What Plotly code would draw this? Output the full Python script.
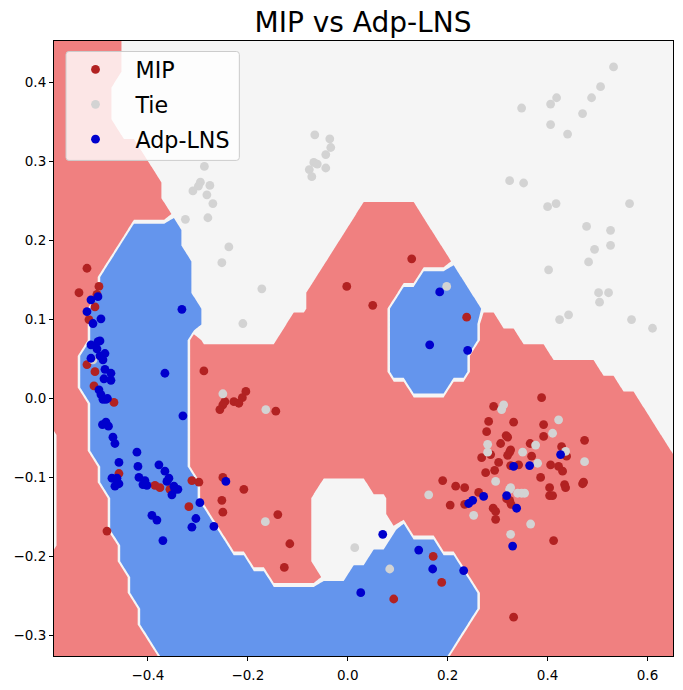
import numpy as np
import plotly.graph_objects as go

# decision regions, one string per mesh row from the bottom: class + last column of the run
REGION_RUNS = [
    "M10 A39 M62", "M9 A40 M62", "M8 A41 M62", "M8 A42 M62", "M7 A42 M62",
    "M7 A21 M26 T29 A41 M62", "M6 A19 M25 T31 A40 M62", "T0 M6 A17 M25 T33 A38 M62",
    "T0 M5 A16 M25 T34 A35 M62", "T0 M5 A15 M25 T33 M62", "T0 M5 A14 M25 T33 M62",
    "T0 M4 A14 M26 T31 M62", "T0 M4 A13 M62", "T0 M3 A13 M61 T62", "T0 M3 A13 M60 T62",
    "M3 A13 M59 T62", "M3 A13 M58 T62", "M2 A13 M35 A39 M56 T62", "M2 A13 M33 A41 M54 T62",
    "M2 A13 M33 A41 M49 T62", "M3 A13 M14 T22 M33 A42 M46 T62", "M3 A14 T23 M33 A42 M44 T62",
    "M3 A14 T25 M33 A42 T62", "M4 A13 T25 M34 A41 T62", "M4 A13 T26 M36 A40 T62",
    "M5 A13 T27 M39 T62", "M6 A12 T28 M38 T62", "M7 A12 T29 M37 T62", "M11 T30 M36 T62",
    "M10 T62", "M10 T62", "M9 T62", "M8 T62", "M6 T62", "M5 T62", "M5 T62", "M5 T62",
    "M6 T62", "M6 T62", "M6 T62",
]
CLASS_VALUE = {"M": 0, "T": 1, "A": 2}

X_MIN, X_MAX = -0.588, 0.651
Y_MIN, Y_MAX = -0.3262, 0.4529
MESH_STEP = 0.02

mip_x = [.388, .292, .282, .332, .278, .392, .392, .317, .320, .306, .365, .428, .474, .326, .324, .320,
         .286, .268, .368, .438, .302, .326, .342, .406, .422, .430, .276, .294, .386, .234, .262, .404,
         .434, .436, .472, .470, .404, .410, .318, .324, .327, .234, .291, .296, .296, .412, .332, -.140,
         -.116, -.127, .190, .216, .205, .171, .188, .092, .128, -.002, .050, .238, -.144, -.288, -.204,
         -.211, -.228, -.218, -.246, -.250, -.256, -.458, -.482, -.312, -.298, -.318, -.386, -.376, -.356,
         -.250, -.208, -.252, -.250, -.522, -.538, -.498, -.502, -.506, -.518, -.522, -.506, -.508, -.468]
mip_y = [.001, -.010, -.029, -.030, -.042, -.033, -.048, -.047, -.049, -.057, -.057, -.061, -.053, -.065,
         -.068, -.072, -.071, -.075, -.073, -.073, -.081, -.085, -.084, -.084, -.086, -.092, -.094, -.091,
         -.100, -.113, -.119, -.113, -.109, -.113, -.106, -.108, -.123, -.123, -.127, -.129, -.134, -.134,
         -.139, -.143, -.153, -.180, -.277, -.147, -.184, -.214, -.104, -.111, -.135, -.200, -.233, -.254,
         .177, .142, .118, .103, -.016, .035, .009, .001, -.004, -.006, -.004, -.008, -.014, -.095, -.168,
         -.104, -.106, -.137, -.110, -.113, -.115, -.100, -.115, -.129, -.144, .165, .134, .142, .132,
         .116, .100, .043, .034, .016, -.005]

tie_x = [.532, .506, .488, .470, .418, .406, .348, .406, .440, .324, .352, .564, .417, .400, .478, .526,
         .526, .494, .482, .402, .502, .522, .504, .442, .424, .568, .610, -.066, -.036, -.034, -.044,
         -.068, -.061, -.044, -.077, -.072, -.287, -.295, -.299, -.276, -.310, -.282, -.270, -.325, -.280,
         -.238, -.252, -.172, -.210, -.250, -.164, -.510, .198, -.165, .014, .084, .162, .252, .312, .308,
         .422, .410, .280, .280, .350, .376, .436, .474, .380, .296, .326, .324, .340, .348, .354, .366, .326]
tie_y = [.420, .395, .381, .361, .381, .373, .368, .347, .335, .276, .273, .247, .247, .243, .218, .213,
         .194, .189, .173, .163, .134, .134, .122, .106, .100, .100, .089, .334, .329, .318, .309, .299,
         .297, .292, .290, .281, .294, .274, .269, .270, .263, .258, .247, .227, .229, .192, .172, .139,
         .095, .006, -.014, .049, .142, -.156, -.189, -.216, -.122, -.148, -.008, -.014, -.027, -.044,
         -.058, -.068, -.068, -.059, -.067, -.080, -.082, -.105, -.113, -.115, -.120, -.120, -.120, -.159, -.172]

adp_x = [-.500, -.514, -.522, -.494, -.510, -.496, -.500, -.514, -.502, -.486, -.496, -.490, -.514, -.486,
         -.474, -.488, -.474, -.498, -.494, -.490, -.484, -.481, -.330, -.491, -.484, -.479, -.470, -.466,
         -.422, -.458, -.420, -.378, -.366, -.358, -.362, -.418, -.406, -.410, -.402, -.472, -.462, -.458,
         -.466, -.462, -.348, -.340, -.352, -.346, -.296, -.392, -.382, -.304, -.312, -.268, -.370, -.244,
         -.332, -.366, .184, .164, .240, .070, .026, .142, .170, .232, .242, .250, .426, .332, .364, .272,
         .318, .338, .330]
adp_y = [.129, .125, .110, .101, .095, .073, .072, .068, .063, .057, .054, .049, .051, .037, .032, .025,
         .023, .011, .005, -.001, -.001, .000, -.022, -.033, -.030, -.035, -.049, -.057, -.068, -.081,
         -.086, -.084, -.092, -.101, -.105, -.100, -.104, -.109, -.110, -.101, -.101, -.108, -.111, -.108,
         -.111, -.115, -.122, -.115, -.132, -.148, -.154, -.152, -.163, -.162, -.180, -.105, .113, .032,
         .135, .068, .061, -.172, -.246, -.192, -.216, -.218, -.133, -.129, -.071, -.086, -.085, -.124,
         -.123, -.139, -.187]

x_ticks = [-0.4, -0.2, 0.0, 0.2, 0.4, 0.6]
y_ticks = [-0.3, -0.2, -0.1, 0.0, 0.1, 0.2, 0.3, 0.4]

WIDTH, HEIGHT = 683, 690
LEFT, RIGHT, TOP, BOTTOM = 53.5, 10, 40.5, 34
PLOT_W, PLOT_H = WIDTH - LEFT - RIGHT, HEIGHT - TOP - BOTTOM


def region_grid(runs):
    rows = []
    for run in runs:
        row = []
        for part in run.split():
            row += [CLASS_VALUE[part[0]]] * (int(part[1:]) + 1 - len(row))
        rows.append(row)
    return np.array(rows)


def legend_frame(x0, y0, x1, y1, r=3):
    # rounded box in paper coordinates, given in pixels of the page
    def px(x, y):
        return f"{(x - LEFT) / PLOT_W:.5f},{1 - (y - TOP) / PLOT_H:.5f}"
    return (f"M{px(x0 + r, y0)} L{px(x1 - r, y0)} Q{px(x1, y0)} {px(x1, y0 + r)} "
            f"L{px(x1, y1 - r)} Q{px(x1, y1)} {px(x1 - r, y1)} "
            f"L{px(x0 + r, y1)} Q{px(x0, y1)} {px(x0, y1 - r)} "
            f"L{px(x0, y0 + r)} Q{px(x0, y0)} {px(x0 + r, y0)} Z")


z = region_grid(REGION_RUNS)
mesh_x = X_MIN + MESH_STEP * np.arange(z.shape[1])
mesh_y = Y_MIN + MESH_STEP * np.arange(z.shape[0])

fig = go.Figure()
fig.add_trace(go.Contour(
    x=mesh_x, y=mesh_y, z=z, zmin=0.5, zmax=1.5, showscale=False, showlegend=False, hoverinfo='skip',
    autocontour=False, contours=dict(coloring='fill', start=0.75, end=1.25, size=0.5, showlines=False),
    line=dict(width=0, smoothing=0),
    colorscale=[[0, 'lightcoral'], [0.5, 'whitesmoke'], [1, 'cornflowerblue']],
))
for name, xs, ys, color in [('MIP', mip_x, mip_y, 'firebrick'),
                            ('Tie', tie_x, tie_y, 'lightgray'),
                            ('Adp-LNS', adp_x, adp_y, 'mediumblue')]:
    fig.add_trace(go.Scatter(x=xs, y=ys, mode='markers', name=name, legendgroup=name,
                             marker=dict(color=color, size=8.8, line=dict(width=0))))

axis_style = dict(showline=True, mirror=True, linecolor='black', linewidth=1.1, ticks='outside',
                  ticklen=4, tickwidth=1.1, tickcolor='black', showgrid=False, zeroline=False,
                  automargin=False, tickformat='.1f', tickfont=dict(size=13.5, color='black'))
fig.update_xaxes(range=[X_MIN, X_MAX], tickvals=x_ticks, ticklabelstandoff=3, **axis_style)
fig.update_yaxes(range=[Y_MIN, Y_MAX], tickvals=y_ticks, **axis_style)
fig.add_shape(type='path', xref='paper', yref='paper', layer='above',
              path=legend_frame(65.5, 51, 239, 160),
              fillcolor='rgba(255,255,255,0.8)', line=dict(color='#cccccc', width=1))
fig.update_layout(
    width=WIDTH, height=HEIGHT, margin=dict(l=LEFT, r=RIGHT, t=TOP, b=BOTTOM),
    paper_bgcolor='white', plot_bgcolor='white',
    font=dict(family='DejaVu Sans', color='black'),
    title=dict(text='MIP vs Adp-LNS', x=363 / WIDTH, xanchor='center', y=1 - 22 / HEIGHT, yanchor='middle',
               font=dict(size=28)),
    legend=dict(x=1.5 / PLOT_W, y=1 - 7.5 / PLOT_H, xanchor='left', yanchor='top', font=dict(size=22.2),
                bgcolor='rgba(0,0,0,0)', borderwidth=0, itemwidth=70, tracegroupgap=3),
)
fig.write_html("out.html", config=dict(displayModeBar=False),
               post_script="document.body.style.margin='0';")
